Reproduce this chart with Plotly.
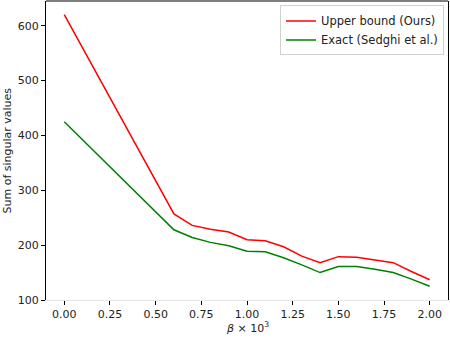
import plotly.graph_objects as go

beta = [0.0, 0.6, 0.7, 0.8, 0.9, 1.0, 1.1, 1.2, 1.3, 1.4, 1.5, 1.6, 1.7, 1.8, 1.9, 2.0]
upper_bound = [620, 257, 236, 229, 224, 210, 208, 197, 180, 168, 179, 178, 173, 168, 152, 137]
exact = [425, 228, 214, 205, 199, 189, 188, 177, 164, 150, 161, 161, 156, 150, 138, 125]

font = dict(family="DejaVu Sans", size=11, color="#222")

fig = go.Figure()
fig.add_trace(go.Scatter(x=beta, y=upper_bound, mode="lines", name="Upper bound (Ours)",
                         line=dict(color="red", width=1.5)))
fig.add_trace(go.Scatter(x=beta, y=exact, mode="lines", name="Exact (Sedghi et al.)",
                         line=dict(color="green", width=1.5)))

fig.update_layout(
    width=450, height=338,
    margin=dict(l=46, r=2, t=1, b=38, autoexpand=False),
    plot_bgcolor="white", paper_bgcolor="white",
    font=font,
    showlegend=True,
    legend=dict(x=0.99, y=0.985, xanchor="right", yanchor="top",
                bgcolor="rgba(255,255,255,0.8)", bordercolor="#d0d0d0", borderwidth=1,
                font=dict(family="DejaVu Sans", size=11.5, color="#222"),
                tracegroupgap=0, itemwidth=30),
    shapes=[dict(type="line", xref="paper", yref="paper", x0=0, x1=1, y0=1, y1=1,
                 line=dict(color="black", width=1.2))],
    annotations=[
        dict(text="<i>β</i> × 10<sup>3</sup>", xref="paper", yref="paper", x=0.5, y=0,
             yshift=-27, yanchor="middle", showarrow=False, font=dict(size=11)),
        dict(text="Sum of singular values", xref="paper", yref="paper", x=0, y=0.5,
             xshift=-39, xanchor="center", textangle=-90, showarrow=False, font=dict(size=11)),
    ],
)
fig.update_xaxes(range=[-0.1, 2.1], tickvals=[0, 0.25, 0.5, 0.75, 1.0, 1.25, 1.5, 1.75, 2.0],
                 ticktext=["0.00", "0.25", "0.50", "0.75", "1.00", "1.25", "1.50", "1.75", "2.00"],
                 showgrid=False, zeroline=False, showline=True, linecolor="#e6e6e6", linewidth=1.2,
                 ticks="outside", ticklen=4, tickcolor="black", automargin=False)
fig.update_yaxes(range=[100, 645], tickvals=[100, 200, 300, 400, 500, 600],
                 showgrid=False, zeroline=False, showline=True, linecolor="black", linewidth=1.2,
                 mirror=True, ticks="outside", ticklen=4, tickcolor="black", automargin=False)

# drop the default page margin so the figure sits at the window's corner
fig.write_html("out.html", config={"displayModeBar": False},
               post_script="document.body.style.margin='0';")
